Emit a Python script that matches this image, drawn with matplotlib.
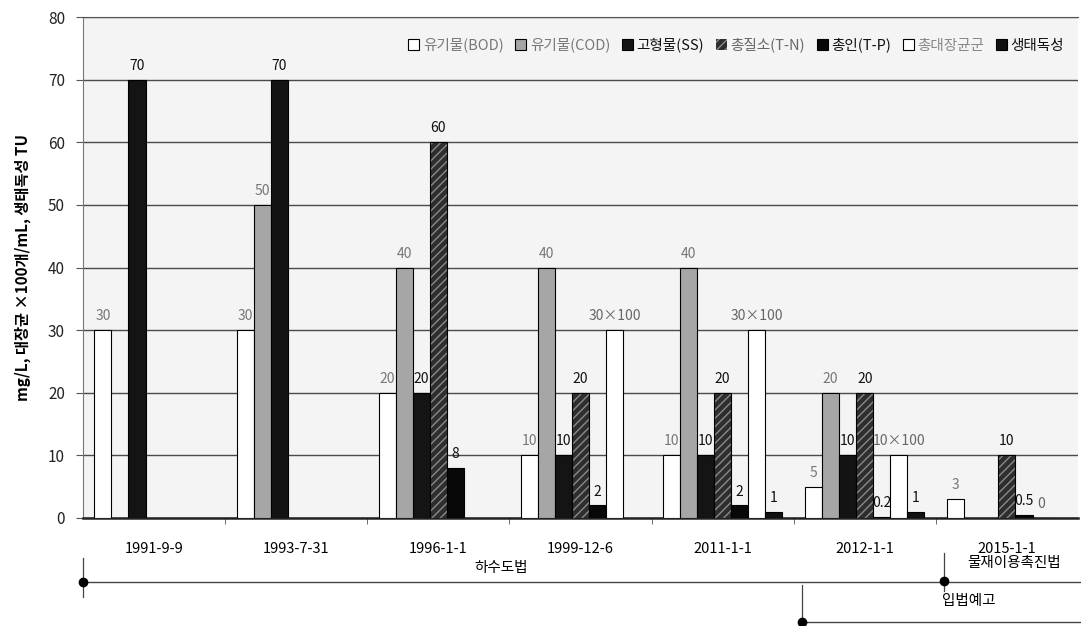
import numpy as np
import matplotlib
matplotlib.use("Agg")
from matplotlib import pyplot as plt
from matplotlib.transforms import blended_transform_factory

plt.rcParams['font.family'] = ['Noto Sans CJK KR', 'DejaVu Sans']

# 데이터
dates = ['1991-9-9', '1993-7-31', '1996-1-1', '1999-12-6', '2011-1-1', '2012-1-1', '2015-1-1']
series_names = ['유기물(BOD)', '유기물(COD)', '고형물(SS)', '총질소(T-N)', '총인(T-P)', '총대장균군', '생태독성']
nan = np.nan
bod = [30, 30, 20, 10, 10, 5, 3]
cod = [nan, 50, 40, 40, 40, 20, nan]
ss = [70, 70, 20, 10, 10, 10, nan]
tn = [nan, nan, 60, 20, 20, 20, 10]
tp = [nan, nan, 8, 2, 2, 0.2, 0.5]
coli = [nan, nan, nan, 30, 30, 10, 0]   # x100 /mL
tox = [nan, nan, nan, nan, 1, 1, nan]
series = [bod, cod, ss, tn, tp, coli, tox]

laws = ['하수도법', '물재이용촉진법', '입법예고']

# 스타일
face = ['white', '#a6a6a6', '#141414', '#2e2e2e', '#080808', 'white', '#111111']
label_col = ['#777777', '#777777', '#111111', '#111111', '#111111', '#666666', '#111111']
legend_col = ['#777777', '#777777', '#111111', '#666666', '#111111', '#888888', '#111111']

fig = plt.figure(figsize=(10.81, 6.26), dpi=100)
ax = fig.add_axes([83 / 1081, 1 - 518 / 626, 995 / 1081, 501 / 626])
ax.set_facecolor('#f4f4f4')

x = np.arange(len(dates))
w = 0.12
for j, vals in enumerate(series):
    pos = x + (j - 3) * w
    v = np.array(vals, dtype=float)
    if j == 3:
        ax.bar(pos, v, w, color=face[j], edgecolor='#8a8a8a', hatch='////', lw=0, zorder=3,
               label=series_names[j])
        ax.bar(pos, v, w, fill=False, edgecolor='black', lw=0.8, zorder=4)
    else:
        ax.bar(pos, v, w, color=face[j], edgecolor='black', lw=0.8, zorder=3,
               label=series_names[j])
    for p, val in zip(pos, v):
        if np.isnan(val):
            continue
        if j == 5 and val > 0:
            txt = f'{val:g}×100'
        else:
            txt = f'{val:g}'
        ax.annotate(txt, (p, val), xytext=(0, 5), textcoords='offset points',
                    ha='center', va='bottom', fontsize=10, color=label_col[j], zorder=5)

ax.set_xlim(-0.5, 6.5)
ax.set_ylim(0, 80)
ax.set_yticks(range(0, 81, 10))
ax.yaxis.grid(True, color='#4a4a4a', lw=1, zorder=0)
ax.set_axisbelow(True)
ax.tick_params(axis='y', labelsize=11, length=5, color='#555555', labelcolor='#222222', pad=8)
ax.set_xticks(x)
ax.set_xticklabels(dates, fontsize=10.5)
ax.tick_params(axis='x', length=0, pad=17)
ax.set_xticks(x[:-1] + 0.5, minor=True)
ax.tick_params(axis='x', which='minor', length=4, color='#555555')

ax.spines['right'].set_visible(False)
ax.spines['top'].set_color('#555555')
ax.spines['left'].set_color('#777777')
ax.spines['bottom'].set_color('#222222')
ax.spines['bottom'].set_linewidth(1.8)

ax.set_ylabel('mg/L, 대장균 ×100개/mL, 생태독성 TU', fontsize=11, fontweight='bold', labelpad=12)

leg = ax.legend(ncol=7, loc='center right', bbox_to_anchor=(0.992, 0.944), frameon=False,
                fontsize=10.5, handlelength=0.75, handleheight=0.75, handletextpad=0.25,
                columnspacing=0.8, borderaxespad=0)
for t, c in zip(leg.get_texts(), legend_col):
    t.set_color(c)

# 아래 연표
tr = blended_transform_factory(ax.transData, ax.transAxes)
lc = '#444444'
# 하수도법
ax.plot([-0.5, 6.55], [-0.128, -0.128], color=lc, lw=1, transform=tr, clip_on=False)
ax.plot([-0.5, -0.5], [-0.08, -0.158], color=lc, lw=0.9, transform=tr, clip_on=False)
ax.plot([-0.5], [-0.128], 'o', color='black', ms=6, transform=tr, clip_on=False)
ax.text(2.44, -0.1, laws[0], ha='center', va='center', fontsize=10.5, transform=tr)
# 물재이용촉진법
ax.plot([5.556, 5.556], [-0.07, -0.146], color=lc, lw=0.9, transform=tr, clip_on=False)
ax.plot([5.556], [-0.125], 'o', color='black', ms=6, transform=tr, clip_on=False)
ax.text(6.05, -0.09, laws[1], ha='center', va='center', fontsize=10.5, transform=tr)
# 입법예고
ax.plot([4.556, 6.55], [-0.208, -0.208], color=lc, lw=1, transform=tr, clip_on=False)
ax.plot([4.556, 4.556], [-0.134, -0.208], color=lc, lw=0.9, transform=tr, clip_on=False)
ax.plot([4.556], [-0.208], 'o', color='black', ms=6, transform=tr, clip_on=False)
ax.text(5.73, -0.166, laws[2], ha='center', va='center', fontsize=10.5, transform=tr)

fig.savefig('out.png', dpi=100)
